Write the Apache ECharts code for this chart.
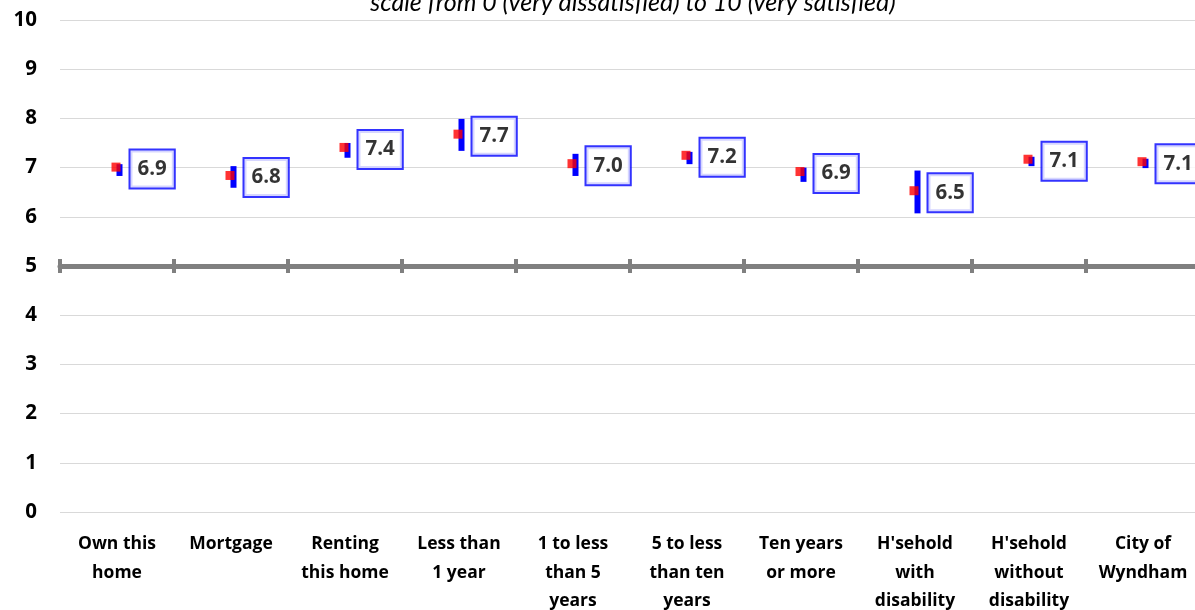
<!DOCTYPE html>
<html>
<head>
<meta charset="utf-8">
<script src="https://cdn.jsdelivr.net/npm/echarts@6/dist/echarts.min.js"></script>
<style>
    html, body { margin: 0; padding: 0; background: #fff; }
    #chart { width: 1195px; height: 610px; }
</style>
</head>
<body>
<div id="chart"></div>
<script>
    // categories (line breaks as they wrap in the picture)
    var categories = [
        'Own this\nhome', 'Mortgage', 'Renting\nthis home', 'Less than\n1 year',
        '1 to less\nthan 5\nyears', '5 to less\nthan ten\nyears', 'Ten years\nor more',
        'H\'sehold\nwith\ndisability', 'H\'sehold\nwithout\ndisability', 'City of\nWyndham'
    ]
    // mean score (red square)
    var means = [7.01, 6.84, 7.41, 7.68, 7.08, 7.25, 6.92, 6.53, 7.17, 7.12]
    // confidence interval (blue bar)
    var lows  = [6.83, 6.59, 7.20, 7.34, 6.83, 7.07, 6.71, 6.07, 7.03, 6.99]
    var highs = [7.07, 7.03, 7.50, 7.99, 7.28, 7.32, 7.00, 6.94, 7.22, 7.18]
    // value shown in each box
    var labels = ['6.9', '6.8', '7.4', '7.7', '7.0', '7.2', '6.9', '6.5', '7.1', '7.1']
    var yTicks = [0, 10, 1]  // min, max, interval

    var myChart = echarts.init(document.getElementById('chart'))

    var ciData = categories.map(function (c, i) { return [i, lows[i], highs[i]] })
    var meanData = categories.map(function (c, i) { return [i, means[i]] })

    myChart.setOption({
        animation: false,
        title: {
            text: 'scale from 0 (very dissatisfied) to 10 (very satisfied)',
            left: 628,
            textAlign: 'center',
            top: -15,
            textStyle: {
                fontFamily: 'Lato',
                fontStyle: 'italic',
                fontWeight: 'normal',
                fontSize: 25,
                color: '#000'
            }
        },
        grid: { left: 60, right: -5, top: 20, bottom: 98, outerBoundsMode: 'none' },
        xAxis: [{
            type: 'category',
            data: categories,
            axisLine: { show: false },
            axisTick: { show: false },
            axisLabel: {
                interval: 0,
                margin: 18,
                fontFamily: 'Open Sans',
                fontWeight: 'bold',
                fontSize: 17.5,
                lineHeight: 28.5,
                color: '#000'
            }
        }, {
            // thick line across at 5
            type: 'category',
            data: categories,
            position: 'bottom',
            offset: -246,
            axisLine: { show: true, lineStyle: { color: '#808080', width: 5 } },
            axisTick: { show: false },
            axisLabel: { show: false }
        }, {
            // tick marks crossing the line at 5
            type: 'category',
            data: categories,
            position: 'bottom',
            offset: -253,
            axisLine: { show: false },
            axisTick: { show: true, length: 14, lineStyle: { color: '#808080', width: 4 } },
            axisLabel: { show: false }
        }],
        yAxis: {
            type: 'value',
            min: yTicks[0],
            max: yTicks[1],
            interval: yTicks[2],
            axisLine: { show: false },
            axisTick: { show: false },
            splitLine: { lineStyle: { color: '#d9d9d9', width: 1 } },
            axisLabel: {
                margin: 23,
                fontFamily: 'Open Sans',
                fontWeight: 'bold',
                fontSize: 20.5,
                color: '#000'
            }
        },
        series: [{
            type: 'custom',
            data: ciData,
            encode: { x: 0, y: [1, 2] },
            renderItem: function (params, api) {
                var top = api.coord([api.value(0), api.value(2)])
                var bot = api.coord([api.value(0), api.value(1)])
                return {
                    type: 'rect',
                    shape: { x: top[0] - 0.5, y: top[1], width: 6, height: bot[1] - top[1] },
                    style: { fill: '#0000ff' }
                }
            },
            z: 2
        }, {
            type: 'scatter',
            data: meanData,
            symbol: 'rect',
            symbolSize: 9,
            symbolOffset: [-1, 0],
            itemStyle: { color: '#ff0000' },
            z: 3,
            label: {
                show: true,
                position: 'right',
                distance: 10,
                offset: [0, 2],
                formatter: function (p) { return labels[p.dataIndex] },
                fontFamily: 'Open Sans',
                fontWeight: 'bold',
                fontSize: 20.5,
                color: '#000',
                backgroundColor: '#fff',
                borderColor: '#0000ff',
                borderWidth: 2,
                padding: [8, 7, 8, 7]
            }
        }]
    })
</script>
</body>
</html>
